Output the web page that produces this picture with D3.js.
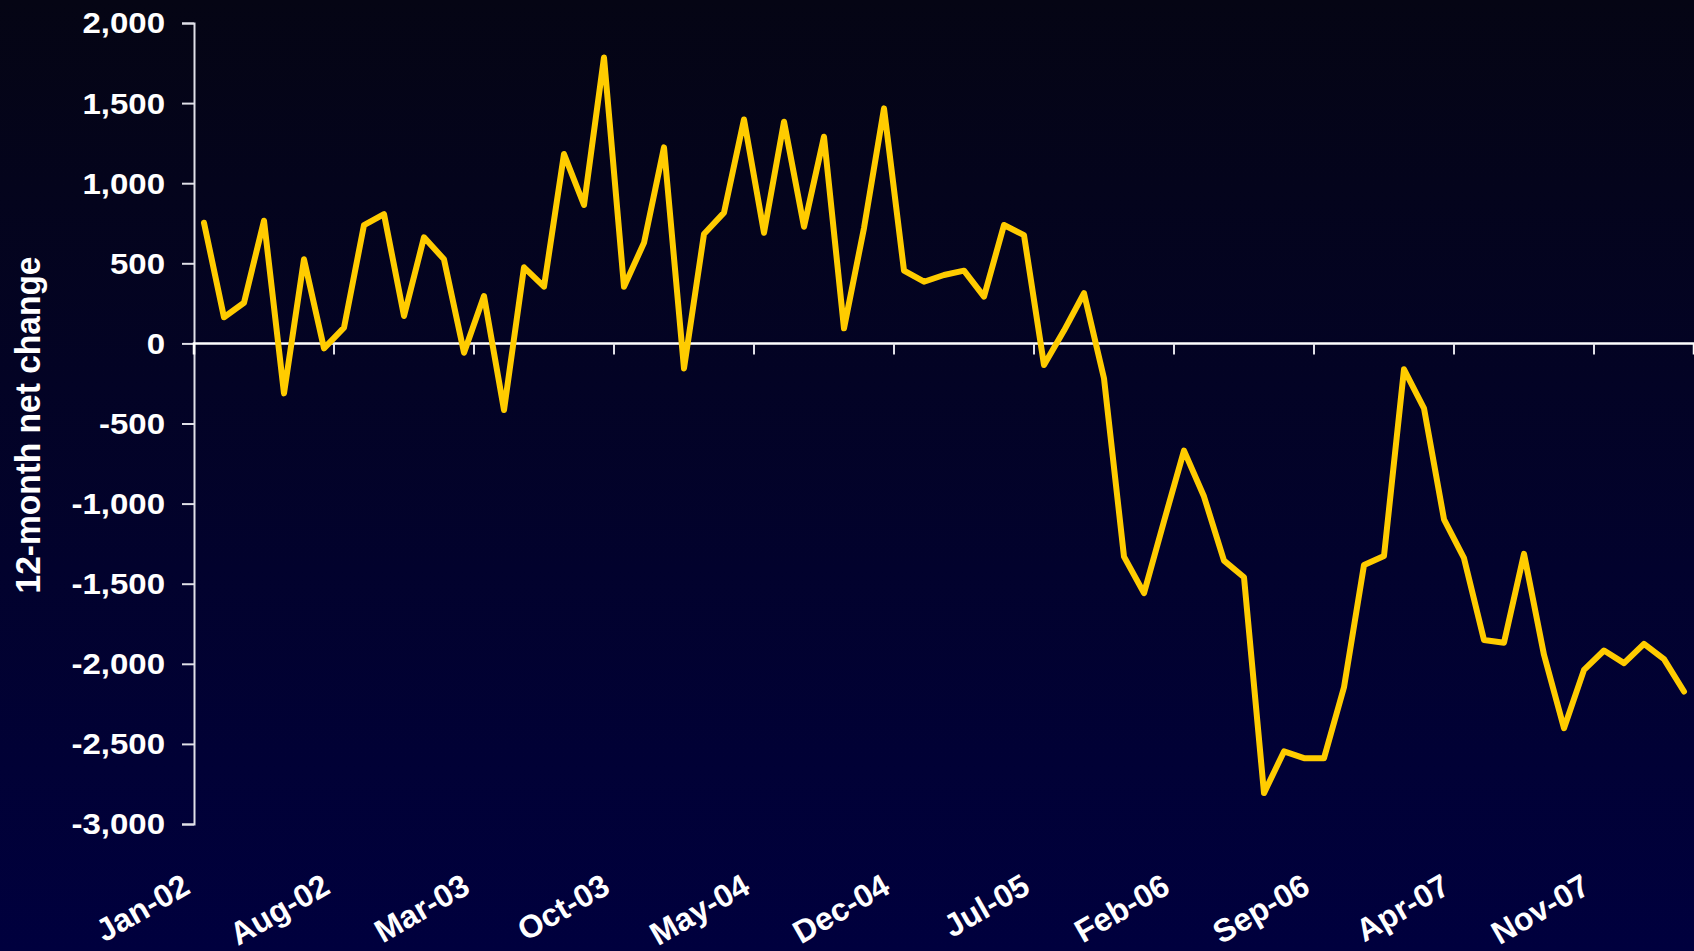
<!DOCTYPE html>
<html><head><meta charset="utf-8">
<script src="https://cdn.jsdelivr.net/npm/d3@7"></script>
<style>html,body{margin:0;padding:0;overflow:hidden;background:#000030}</style>
</head><body>
<svg id="chart" width="1694" height="951"></svg>
<script>
// Months Jan-02 .. Mar-08
const months = (() => {
  const names = ["Jan","Feb","Mar","Apr","May","Jun","Jul","Aug","Sep","Oct","Nov","Dec"];
  const out = [];
  for (let k = 0; k < 75; k++) {
    const yr = 2 + Math.floor(k / 12);
    out.push(names[k % 12] + "-" + String(yr).padStart(2, "0"));
  }
  return out;
})();
const netChange = [
  753, 163, 254, 766, -312, 525, -31, 98, 739, 807, 171, 662, 525, -58, 296, -416,
  475, 354, 1182, 864, 1785, 354, 628, 1224, -156, 683, 816, 1398, 691, 1384, 728,
  1290, 94, 720, 1467, 454, 385, 427, 454, 292, 739, 676, -135, 80, 313, -218,
  -1331, -1559, -1110, -669, -956, -1356, -1460, -2807, -2547, -2589, -2589, -2146, -1383, -1327,
  -162, -405, -1098, -1341, -1851, -1868, -1314, -1944, -2402, -2038, -1917, -1996, -1876, -1971, -2173
];
const yTicks = [2000, 1500, 1000, 500, 0, -500, -1000, -1500, -2000, -2500, -3000];
const xTickLabels = ["Jan-02","Aug-02","Mar-03","Oct-03","May-04","Dec-04","Jul-05","Feb-06","Sep-06","Apr-07","Nov-07"];
const yTitle = "12-month net change";

const W = 1694, H = 951;
const mLeft = 194, mRight = 1694, mTop = 23, mBottom = 824;
const svg = d3.select("#chart");

const defs = svg.append("defs");
const grad = defs.append("linearGradient").attr("id","bg").attr("x1",0).attr("y1",0).attr("x2",0).attr("y2",1);
grad.append("stop").attr("offset","0%").attr("stop-color","#050514");
grad.append("stop").attr("offset","100%").attr("stop-color","#00003e");
svg.append("rect").attr("width",W).attr("height",H).attr("fill","url(#bg)");

const x = d3.scaleBand().domain(months).range([mLeft, mRight]).padding(0);
const y = d3.scaleLinear().domain([-3000, 2000]).range([mBottom, mTop]);

const fmt = d3.formatLocale({decimal: ".", thousands: ",", grouping: [3], currency: ["$", ""], minus: "-"}).format(",");

// Y axis
const yAxis = svg.append("g").attr("transform", `translate(${mLeft},0)`)
  .call(d3.axisLeft(y).tickValues(yTicks).tickSize(12).tickFormat(""));
yAxis.select(".domain").attr("stroke","#e0e0e8").attr("stroke-width",2);
yAxis.selectAll(".tick line").attr("stroke","#e0e0e8").attr("stroke-width",2);

// Y tick labels
svg.append("g").selectAll("g").data(yTicks).join("g")
  .attr("transform", d => `translate(165,${y(d)}) scale(1.1,1)`)
  .append("text")
  .attr("text-anchor","end").attr("dominant-baseline","central")
  .attr("fill","#ffffff")
  .style("font-family","'Liberation Sans', Arial, sans-serif")
  .style("font-weight","bold").style("font-size","30px")
  .text(d => fmt(d));

// X axis (at zero)
const tickCats = months.filter((m, i) => i > 0 && i % 7 === 0);
const xAxis = svg.append("g").attr("transform", `translate(0,${y(0)})`)
  .call(d3.axisBottom(x).tickValues(tickCats).tickSize(11).tickFormat("").offset(0));
xAxis.select(".domain").attr("stroke","#ffffff").attr("stroke-width",2.5);
xAxis.selectAll(".tick").attr("transform", d => `translate(${x(d)},0)`);
xAxis.selectAll(".tick line").attr("stroke","#e0e0e8").attr("stroke-width",2);

// X labels below plot
svg.append("g").selectAll("text").data(xTickLabels).join("text")
  .attr("transform", d => `translate(${x(d) + x.bandwidth()/2 - 12},892) rotate(-30)`)
  .attr("text-anchor","end")
  .attr("fill","#ffffff")
  .style("font-family","'Liberation Sans', Arial, sans-serif")
  .style("font-weight","bold").style("font-size","32px")
  .text(d => d);

// Y title
svg.append("text")
  .attr("transform","translate(40,425) rotate(-90)")
  .attr("text-anchor","middle")
  .attr("fill","#ffffff")
  .attr("textLength",337).attr("lengthAdjust","spacingAndGlyphs")
  .style("font-family","'Liberation Sans Narrow', 'Liberation Sans', Arial, sans-serif")
  .style("font-weight","bold")
  .style("font-size","35px")
  .text(yTitle);

// Line
const line = d3.line()
  .x((d, i) => x(months[i]) + x.bandwidth()/2)
  .y(d => y(d));
svg.append("path").datum(netChange)
  .attr("d", line)
  .attr("fill","none").attr("stroke","#ffcc00").attr("stroke-width",6)
  .attr("stroke-linejoin","round").attr("stroke-linecap","round");
</script>
</body></html>
